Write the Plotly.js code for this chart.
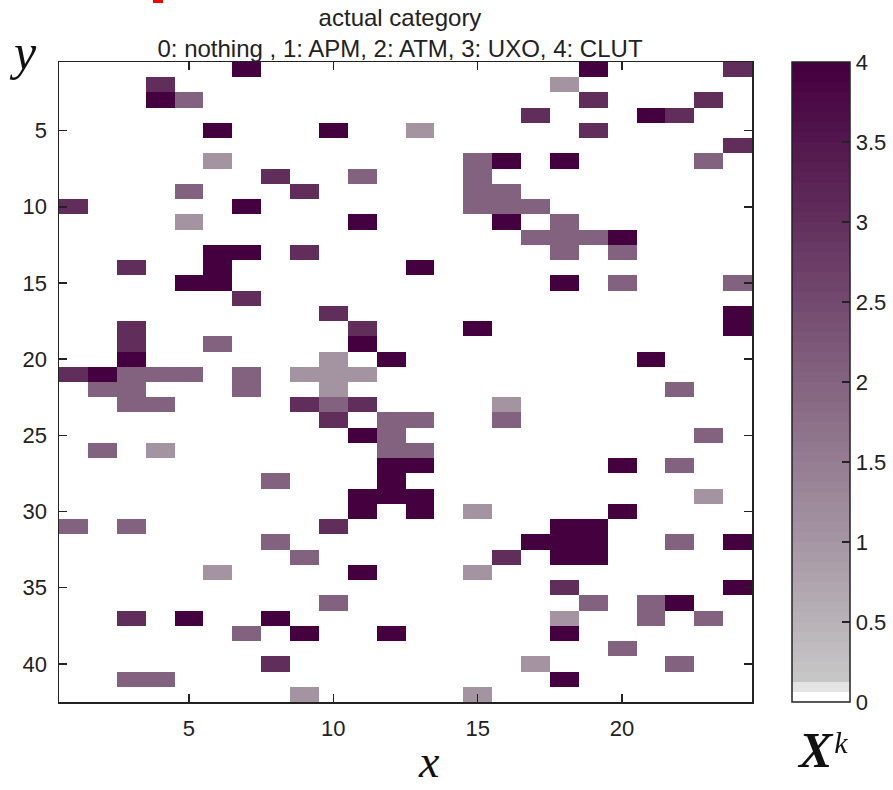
<!DOCTYPE html>
<html>
<head>
<meta charset="utf-8">
<script src="https://cdn.plot.ly/plotly-3.0.1.min.js"></script>
<style>
  html, body { margin: 0; padding: 0; background: #ffffff; }
  #chart { width: 893px; height: 790px; }
</style>
</head>
<body>
<div id="chart"></div>
<script>
// Column (x) and row (y) indices of the grid
const xIndex = [1,2,3,4,5,6,7,8,9,10,11,12,13,14,15,16,17,18,19,20,21,22,23,24];
const yIndex = [1,2,3,4,5,6,7,8,9,10,11,12,13,14,15,16,17,18,19,20,21,22,23,24,25,26,27,28,29,30,31,32,33,34,35,36,37,38,39,40,41,42];

// Actual category per cell (0: nothing, 1: APM, 2: ATM, 3: UXO, 4: CLUT), one array per row y = 1..42
const row01 = [0,0,0,0,0,0,4,0,0,0,0,0,0,0,0,0,0,0,4,0,0,0,0,3];
const row02 = [0,0,0,3,0,0,0,0,0,0,0,0,0,0,0,0,0,1,0,0,0,0,0,0];
const row03 = [0,0,0,4,2,0,0,0,0,0,0,0,0,0,0,0,0,0,3,0,0,0,3,0];
const row04 = [0,0,0,0,0,0,0,0,0,0,0,0,0,0,0,0,3,0,0,0,4,3,0,0];
const row05 = [0,0,0,0,0,4,0,0,0,4,0,0,1,0,0,0,0,0,3,0,0,0,0,0];
const row06 = [0,0,0,0,0,0,0,0,0,0,0,0,0,0,0,0,0,0,0,0,0,0,0,3];
const row07 = [0,0,0,0,0,1,0,0,0,0,0,0,0,0,2,4,0,4,0,0,0,0,2,0];
const row08 = [0,0,0,0,0,0,0,3,0,0,2,0,0,0,2,0,0,0,0,0,0,0,0,0];
const row09 = [0,0,0,0,2,0,0,0,3,0,0,0,0,0,2,2,0,0,0,0,0,0,0,0];
const row10 = [3,0,0,0,0,0,4,0,0,0,0,0,0,0,2,2,2,0,0,0,0,0,0,0];
const row11 = [0,0,0,0,1,0,0,0,0,0,4,0,0,0,0,4,0,2,0,0,0,0,0,0];
const row12 = [0,0,0,0,0,0,0,0,0,0,0,0,0,0,0,0,2,2,2,4,0,0,0,0];
const row13 = [0,0,0,0,0,4,4,0,3,0,0,0,0,0,0,0,0,2,0,2,0,0,0,0];
const row14 = [0,0,3,0,0,4,0,0,0,0,0,0,4,0,0,0,0,0,0,0,0,0,0,0];
const row15 = [0,0,0,0,4,4,0,0,0,0,0,0,0,0,0,0,0,4,0,2,0,0,0,2];
const row16 = [0,0,0,0,0,0,3,0,0,0,0,0,0,0,0,0,0,0,0,0,0,0,0,0];
const row17 = [0,0,0,0,0,0,0,0,0,3,0,0,0,0,0,0,0,0,0,0,0,0,0,4];
const row18 = [0,0,3,0,0,0,0,0,0,0,3,0,0,0,4,0,0,0,0,0,0,0,0,4];
const row19 = [0,0,3,0,0,2,0,0,0,0,4,0,0,0,0,0,0,0,0,0,0,0,0,0];
const row20 = [0,0,4,0,0,0,0,0,0,1,0,4,0,0,0,0,0,0,0,0,4,0,0,0];
const row21 = [3,4,2,2,2,0,2,0,1,1,1,0,0,0,0,0,0,0,0,0,0,0,0,0];
const row22 = [0,2,2,0,0,0,2,0,0,1,0,0,0,0,0,0,0,0,0,0,0,2,0,0];
const row23 = [0,0,2,2,0,0,0,0,3,2,3,0,0,0,0,1,0,0,0,0,0,0,0,0];
const row24 = [0,0,0,0,0,0,0,0,0,3,0,2,2,0,0,2,0,0,0,0,0,0,0,0];
const row25 = [0,0,0,0,0,0,0,0,0,0,4,2,0,0,0,0,0,0,0,0,0,0,2,0];
const row26 = [0,2,0,1,0,0,0,0,0,0,0,2,2,0,0,0,0,0,0,0,0,0,0,0];
const row27 = [0,0,0,0,0,0,0,0,0,0,0,4,4,0,0,0,0,0,0,4,0,2,0,0];
const row28 = [0,0,0,0,0,0,0,2,0,0,0,4,0,0,0,0,0,0,0,0,0,0,0,0];
const row29 = [0,0,0,0,0,0,0,0,0,0,4,4,4,0,0,0,0,0,0,0,0,0,1,0];
const row30 = [0,0,0,0,0,0,0,0,0,0,4,0,4,0,1,0,0,0,0,4,0,0,0,0];
const row31 = [2,0,2,0,0,0,0,0,0,3,0,0,0,0,0,0,0,4,4,0,0,0,0,0];
const row32 = [0,0,0,0,0,0,0,2,0,0,0,0,0,0,0,0,4,4,4,0,0,2,0,4];
const row33 = [0,0,0,0,0,0,0,0,2,0,0,0,0,0,0,3,0,4,4,0,0,0,0,0];
const row34 = [0,0,0,0,0,1,0,0,0,0,4,0,0,0,1,0,0,0,0,0,0,0,0,0];
const row35 = [0,0,0,0,0,0,0,0,0,0,0,0,0,0,0,0,0,3,0,0,0,0,0,4];
const row36 = [0,0,0,0,0,0,0,0,0,2,0,0,0,0,0,0,0,0,2,0,2,4,0,0];
const row37 = [0,0,3,0,4,0,0,4,0,0,0,0,0,0,0,0,0,1,0,0,2,0,2,0];
const row38 = [0,0,0,0,0,0,2,0,4,0,0,4,0,0,0,0,0,4,0,0,0,0,0,0];
const row39 = [0,0,0,0,0,0,0,0,0,0,0,0,0,0,0,0,0,0,0,2,0,0,0,0];
const row40 = [0,0,0,0,0,0,0,3,0,0,0,0,0,0,0,0,1,0,0,0,0,2,0,0];
const row41 = [0,0,2,2,0,0,0,0,0,0,0,0,0,0,0,0,0,4,0,0,0,0,0,0];
const row42 = [0,0,0,0,0,0,0,0,1,0,0,0,0,0,1,0,0,0,0,0,0,0,0,0];

const xTicks = [5, 10, 15, 20];
const yTicks = [5, 10, 15, 20, 25, 30, 35, 40];
const cbarTicks = [0, 0.5, 1, 1.5, 2, 2.5, 3, 3.5, 4];
const cbarTickText = ['0', '0.5', '1', '1.5', '2', '2.5', '3', '3.5', '4'];

const titleText = 'actual category<br>0: nothing , 1: APM, 2: ATM, 3: UXO, 4: CLUT';

const zGrid = [row01,row02,row03,row04,row05,row06,row07,row08,row09,row10,
               row11,row12,row13,row14,row15,row16,row17,row18,row19,row20,
               row21,row22,row23,row24,row25,row26,row27,row28,row29,row30,
               row31,row32,row33,row34,row35,row36,row37,row38,row39,row40,
               row41,row42];

// 64-level stepped colormap (white -> light gray -> dark purple)
function hexToRgb(h) { return [parseInt(h.slice(1,3),16), parseInt(h.slice(3,5),16), parseInt(h.slice(5,7),16)]; }
const anchors = [[0,'#ffffff'],[1,'#e4e4e4'],[2,'#c6c6c6'],[16,'#a494a2'],[32,'#83627f'],[48,'#612e5c'],[63,'#45003f']];
function levelColor(i) {
  for (let a = 0; a < anchors.length - 1; a++) {
    const [l0, c0] = anchors[a], [l1, c1] = anchors[a+1];
    if (i >= l0 && i <= l1) {
      const t = l1 === l0 ? 0 : (i - l0) / (l1 - l0);
      const r0 = hexToRgb(c0), r1 = hexToRgb(c1);
      const c = r0.map((v, k) => Math.round(v + (r1[k] - v) * t));
      return 'rgb(' + c.join(',') + ')';
    }
  }
  return anchors[anchors.length-1][1];
}
const colorscale = [];
for (let i = 0; i < 64; i++) {
  const c = levelColor(i);
  colorscale.push([i / 64, c]);
  colorscale.push([(i + 1) / 64, c]);
}

const plotL = 59, plotR = 752, plotT = 62, plotB = 702;
const pw = plotR - plotL, ph = plotB - plotT;
const px = v => (v - plotL) / pw;
const py = v => (plotB - v) / ph;

const trace = {
  type: 'heatmap',
  x: xIndex,
  y: yIndex,
  z: zGrid,
  zmin: 0,
  zmax: 4,
  colorscale: colorscale,
  hoverinfo: 'x+y+z',
  colorbar: {
    x: px(792), xanchor: 'left', xpad: 0, ypad: 0,
    y: 0.5, yanchor: 'middle', len: 1, lenmode: 'fraction',
    thickness: 58, thicknessmode: 'pixels',
    outlinecolor: '#222222', outlinewidth: 1.5,
    tickmode: 'array', tickvals: cbarTicks, ticktext: cbarTickText,
    ticks: 'inside', ticklen: 8, tickwidth: 1.5, tickcolor: '#222222',
    tickfont: { family: 'Liberation Sans, Arial, sans-serif', size: 22, color: '#222222' }
  }
};

const axisFont = { family: 'Liberation Sans, Arial, sans-serif', size: 22, color: '#222222' };

const layout = {
  width: 893,
  height: 790,
  margin: { l: plotL, r: 893 - plotR, t: plotT, b: 790 - plotB, pad: 0, autoexpand: false },
  paper_bgcolor: '#ffffff',
  plot_bgcolor: '#ffffff',
  showlegend: false,
  title: {
    text: titleText,
    font: { family: 'Liberation Sans, Arial, sans-serif', size: 24, color: '#222222' },
    xref: 'paper', x: px(400), xanchor: 'center',
    yref: 'container', y: 1 - 26 / 790, yanchor: 'top'
  },
  xaxis: {
    range: [0.5, 24.5],
    tickmode: 'array', tickvals: xTicks,
    ticks: 'inside', ticklen: 8, tickwidth: 1.5, tickcolor: '#222222',
    showline: true, linecolor: '#222222', linewidth: 1.5, mirror: 'ticks',
    showgrid: false, zeroline: false,
    tickfont: axisFont, ticklabelstandoff: 6
  },
  yaxis: {
    range: [42.5, 0.5],
    tickmode: 'array', tickvals: yTicks,
    ticks: 'inside', ticklen: 8, tickwidth: 1.5, tickcolor: '#222222',
    showline: true, linecolor: '#222222', linewidth: 1.5, mirror: 'ticks',
    showgrid: false, zeroline: false,
    tickfont: axisFont, ticklabelstandoff: 6
  },
  annotations: [
    { text: '<i>y</i>', xref: 'paper', yref: 'paper', x: px(23), y: py(52),
      xanchor: 'center', yanchor: 'middle', showarrow: false,
      font: { family: 'Liberation Serif, Times New Roman, serif', size: 50, color: '#111111' } },
    { text: '<i>x</i>', xref: 'paper', yref: 'paper', x: px(429), y: py(789),
      xanchor: 'center', yanchor: 'bottom', showarrow: false,
      font: { family: 'Liberation Serif, Times New Roman, serif', size: 46, color: '#111111' } },
    { text: '<b><i>X</i></b><i>ᵏ</i>', xref: 'paper', yref: 'paper', x: px(822), y: py(750),
      xanchor: 'center', yanchor: 'middle', showarrow: false,
      font: { family: 'Liberation Serif, Times New Roman, serif', size: 50, color: '#111111' } }
  ],
  shapes: [
    { type: 'rect', xref: 'paper', yref: 'paper', x0: px(153), x1: px(163), y0: py(3), y1: py(0),
      fillcolor: '#ff0000', line: { width: 0 } }
  ]
};

Plotly.newPlot('chart', [trace], layout, { displayModeBar: false, staticPlot: true });
</script>
</body>
</html>
